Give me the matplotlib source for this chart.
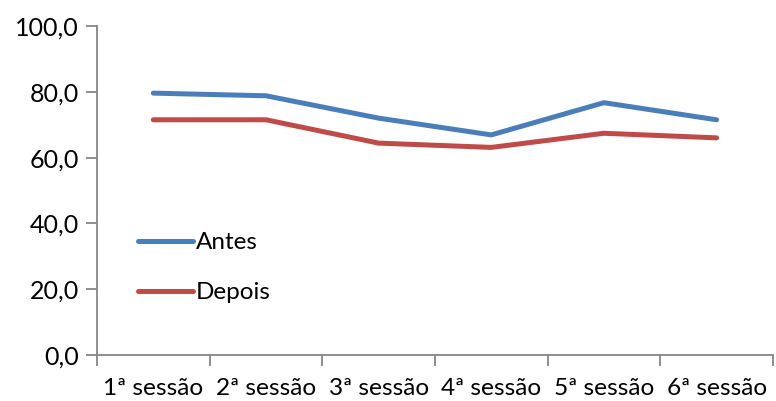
import numpy as np
import matplotlib.pyplot as plt

sessoes = ["1ª sessão", "2ª sessão", "3ª sessão", "4ª sessão", "5ª sessão", "6ª sessão"]
antes = [79.6, 78.8, 72.0, 66.9, 76.7, 71.5]
depois = [71.5, 71.5, 64.4, 63.1, 67.4, 66.0]

plt.rcParams['font.family'] = ['Lato', 'DejaVu Sans']

fig = plt.figure(figsize=(7.76, 4.01), dpi=100)
ax = fig.add_axes([0.125, 0.115, 0.871, 0.82])

x = np.arange(len(sessoes))
ax.plot(x, antes, color='#4a7ebb', linewidth=3.6, solid_capstyle='round', label="Antes")
ax.plot(x, depois, color='#be4b48', linewidth=3.6, solid_capstyle='round', label="Depois")

ax.set_xlim(-0.5, len(sessoes) - 0.5)
ax.set_ylim(0, 100)
ax.set_yticks(np.arange(0, 101, 20))
ax.set_yticklabels([f"{v:.1f}".replace('.', ',') for v in np.arange(0, 101, 20)])
ax.set_xticks(np.arange(-0.5, len(sessoes), 1.0))
ax.set_xticklabels([])
ax.set_xticks(x, minor=True)
ax.set_xticklabels(sessoes, minor=True)
ax.tick_params(axis='x', which='minor', length=0, pad=17, labelsize=17.6)
ax.tick_params(axis='x', which='major', length=8, color='#868686', width=1.3)
ax.tick_params(axis='y', length=8, color='#868686', width=1.3, labelsize=18, pad=5)

for s in ['top', 'right']:
    ax.spines[s].set_visible(False)
for s in ['left', 'bottom']:
    ax.spines[s].set_color('#868686')
    ax.spines[s].set_linewidth(1.3)

# legenda dentro do grafico, a esquerda
ax.legend(loc='upper left', bbox_to_anchor=(0.046, 0.403), frameon=False, fontsize=17.5,
          handlelength=2.25, handletextpad=0.15, labelspacing=1.2, borderaxespad=0)

fig.savefig("out.png", dpi=100)
